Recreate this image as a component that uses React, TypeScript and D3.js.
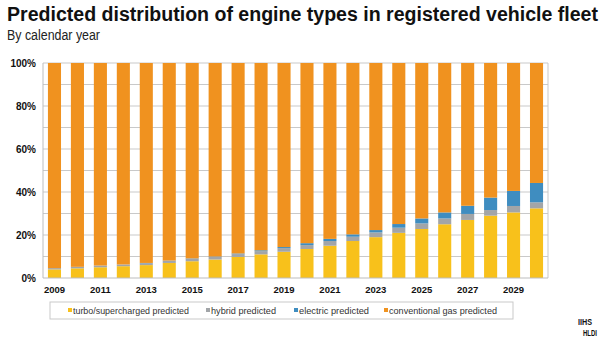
import React from "react";
import * as d3 from "d3";

const years = [2009,2010,2011,2012,2013,2014,2015,2016,2017,2018,2019,2020,2021,2022,2023,2024,2025,2026,2027,2028,2029,2030];
const turbo = [4,4.5,5,5.5,6,7,7.8,8.6,9.8,11,12.2,13.5,15,17.2,19,21,22.8,25,27,29,30.5,32.4];
const hybrid = [0.6,0.7,0.8,0.8,0.9,1,1.1,1.2,1.3,1.5,1.7,1.8,2.2,2,2.2,2.4,2.6,2.7,2.8,2.6,3,2.8];
const electric = [0,0,0,0,0.1,0.1,0.2,0.2,0.3,0.4,0.5,0.9,1,1.1,1.1,1.7,2.3,2.8,3.8,5.8,7,9];
const conventional = years.map((_, i) => 100 - turbo[i] - hybrid[i] - electric[i]);
const seriesNames = ["turbo/supercharged predicted", "hybrid predicted", "electric predicted", "conventional gas predicted"];
const seriesColors = ["#F8C11B", "#A2A5A8", "#3F8DC0", "#F0921F"];
const yTicks = [0, 20, 40, 60, 80, 100];
const gridTicks = [10, 20, 30, 40, 50, 60, 70, 80, 90, 100];
const xLabelYears = [2009,2011,2013,2015,2017,2019,2021,2023,2025,2027,2029];

export default function App() {
  const W = 611, H = 339;
  const x = d3.scaleBand<number>().domain(years).range([43, 548]).paddingInner(0.43).paddingOuter(0.215);
  const y = d3.scaleLinear().domain([0, 100]).range([278, 63]);
  const rows = years.map((yr, i) => ({ year: yr, turbo: turbo[i], hybrid: hybrid[i], electric: electric[i], conventional: conventional[i] }));
  const keys = ["turbo", "hybrid", "electric", "conventional"];
  const stacked = d3.stack<any>().keys(keys)(rows);
  const font = "Liberation Sans, Arial, sans-serif";
  const legendItems = [
    { sx: 68, tx: 73, len: 116 },
    { sx: 206, tx: 211, len: 65 },
    { sx: 294, tx: 299, len: 70 },
    { sx: 384, tx: 389, len: 108 },
  ];
  return (
    <svg width={W} height={H} style={{ position: "absolute", left: 0, top: 0, background: "#fff" }} fontFamily={font}>
      <text x={7} y={21} fontSize={20} fontWeight="bold" fill="#111" textLength={591} lengthAdjust="spacingAndGlyphs">
        Predicted distribution of engine types in registered vehicle fleet
      </text>
      <text x={7} y={40} fontSize={14} fill="#222" textLength={93} lengthAdjust="spacingAndGlyphs">By calendar year</text>
      {gridTicks.map(t => (
        <line key={t} x1={43} x2={548} y1={y(t)} y2={y(t)} stroke="#c9c9c9" strokeWidth={1} />
      ))}
      <line x1={548} x2={548} y1={y(100)} y2={y(0)} stroke="#c9c9c9" />
      {stacked.map((s, si) => (
        <g key={si} fill={seriesColors[si]}>
          {s.map((d, i) => (
            <rect key={i} x={x(years[i])} width={x.bandwidth()} y={y(d[1])} height={Math.max(0, y(d[0]) - y(d[1]))} />
          ))}
        </g>
      ))}
      <line x1={43} x2={43} y1={y(100)} y2={y(0)} stroke="#bdbdbd" />
      <line x1={43} x2={548} y1={y(0)} y2={y(0)} stroke="#bdbdbd" />
      {yTicks.map(t => (
        <text key={t} x={36} y={y(t) + 3.5} fontSize={10} fontWeight="bold" textAnchor="end" fill="#111">{t}%</text>
      ))}
      {xLabelYears.map(yr => (
        <text key={yr} x={(x(yr) as number) + x.bandwidth() / 2} y={293} fontSize={9.5} fontWeight="bold" textAnchor="middle" fill="#111">{yr}</text>
      ))}
      <rect x={50} y={302} width={463} height={17} fill="#fff" stroke="#c9c9c9" />
      {seriesNames.map((n, i) => (
        <g key={n}>
          <rect x={legendItems[i].sx} y={308} width={4} height={4} fill={seriesColors[i]} />
          <text x={legendItems[i].tx} y={314} fontSize={9.5} fill="#333" textLength={legendItems[i].len} lengthAdjust="spacingAndGlyphs">{n}</text>
        </g>
      ))}
      <text x={578} y={325} fontSize={9} fontWeight="bold" fill="#111" textLength={14} lengthAdjust="spacingAndGlyphs">IIHS</text>
      <text x={583} y={336} fontSize={9} fontWeight="bold" fill="#111" textLength={14} lengthAdjust="spacingAndGlyphs">HLDI</text>
    </svg>
  );
}
